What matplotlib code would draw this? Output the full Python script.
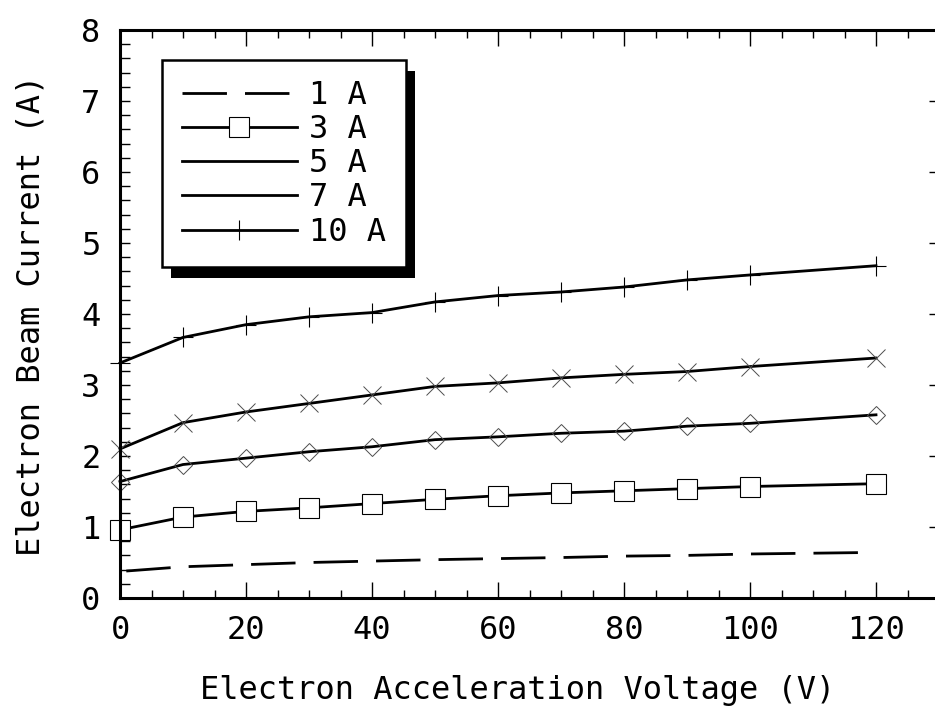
import numpy as np
import matplotlib.pyplot as plt
from matplotlib.patches import Rectangle
from matplotlib.lines import Line2D
from matplotlib.ticker import MultipleLocator

plt.rcParams['font.family'] = ['DejaVu Sans Mono', 'DejaVu Sans']
plt.rcParams['lines.scale_dashes'] = False

#  Electron acceleration voltage (V) for the curves with markers.
volt = [0, 10, 20, 30, 40, 50, 60, 70, 80, 90, 100, 120]

#  Electron beam current (A) per filament current.
cur_3a = [0.96, 1.14, 1.22, 1.27, 1.33, 1.39, 1.44, 1.48, 1.51, 1.54, 1.57, 1.61]
cur_5a = [1.64, 1.88, 1.97, 2.06, 2.13, 2.23, 2.27, 2.32, 2.35, 2.42, 2.46, 2.58]
cur_7a = [2.10, 2.47, 2.62, 2.74, 2.86, 2.98, 3.03, 3.10, 3.15, 3.19, 3.26, 3.38]
cur_10a = [3.31, 3.67, 3.85, 3.96, 4.02, 4.17, 4.26, 4.31, 4.38, 4.48, 4.55, 4.68]

#  The 1 A curve is a dashed line without markers.
volt_1a = [1, 10, 20, 30, 40, 50, 60, 70, 80, 90, 100, 118]
cur_1a = [0.38, 0.44, 0.47, 0.50, 0.52, 0.54, 0.555, 0.57, 0.59, 0.60, 0.62, 0.64]

labels = ['1 A', '3 A', '5 A', '7 A', '10 A']

fig = plt.figure(figsize=(9.35, 7.11), dpi=100)
ax = fig.add_axes([120 / 935, 113 / 711, 819 / 935, 568 / 711])

lw = 2.0
l1, = ax.plot(volt_1a, cur_1a, color='black', lw=lw,
              linestyle=(0, (32, 13)))
l3, = ax.plot(volt, cur_3a, color='black', lw=lw, marker='s', ms=14,
              mfc='white', mec='black', mew=0.8, clip_on=False)
ax.plot(volt, cur_5a, color='black', lw=lw, marker='D', ms=9,
        mfc='none', mec='0.3', mew=0.7, clip_on=False)
ax.plot(volt, cur_7a, color='black', lw=lw, marker='x', ms=13,
        mec='0.3', mew=0.7, clip_on=False)
l10, = ax.plot(volt, cur_10a, color='black', lw=lw, marker='+', ms=14,
               mec='black', mew=0.8, clip_on=False)

ax.set_xlim(0, 130)
ax.set_ylim(0, 8)

for s in ax.spines.values():
    s.set_linewidth(2.2)

ax.xaxis.set_major_locator(MultipleLocator(20))
ax.xaxis.set_minor_locator(MultipleLocator(5))
ax.yaxis.set_major_locator(MultipleLocator(1))
ax.yaxis.set_minor_locator(MultipleLocator(0.2))

ax.tick_params(axis='x', which='major', direction='in', length=11.5,
               width=1.0, top=True, labelsize=23, pad=12)
ax.tick_params(axis='x', which='minor', direction='in', length=5.8,
               width=1.0, top=True)
ax.tick_params(axis='y', which='major', direction='in', length=7,
               width=1.0, right=True, labelsize=23, pad=14)
ax.tick_params(axis='y', which='minor', direction='in', length=7,
               width=1.0, right=False)

ax.set_xlabel('Electron Acceleration Voltage (V)', fontsize=23)
ax.set_ylabel('Electron Beam Current (A)', fontsize=23)
ax.xaxis.set_label_coords(0.485, -0.135)
ax.yaxis.set_label_coords(-0.09, 0.497)

#  In the legend the 5 A and 7 A keys show as plain lines.
plain = Line2D([], [], color='black', lw=lw)
leg = ax.legend([l1, l3, plain, plain, l10], labels,
                loc='upper left', bbox_to_anchor=(0.051, 0.947),
                borderaxespad=0, fontsize=23, handlelength=3.6,
                handletextpad=0.38, borderpad=0.62, labelspacing=0.1,
                numpoints=1, fancybox=False, framealpha=1,
                edgecolor='black')
leg.get_frame().set_linewidth(1.8)

#  Black drop shadow behind the legend box.
fig.canvas.draw()
bb = leg.get_window_extent().transformed(fig.transFigure.inverted())
dx, dy = 9 / 935, 11 / 711
ax.add_patch(Rectangle((bb.x0 + dx, bb.y0 - dy), bb.width, bb.height,
                       transform=fig.transFigure, facecolor='black',
                       edgecolor='none', zorder=4.9, clip_on=False))

fig.savefig('out.png', dpi=100)
